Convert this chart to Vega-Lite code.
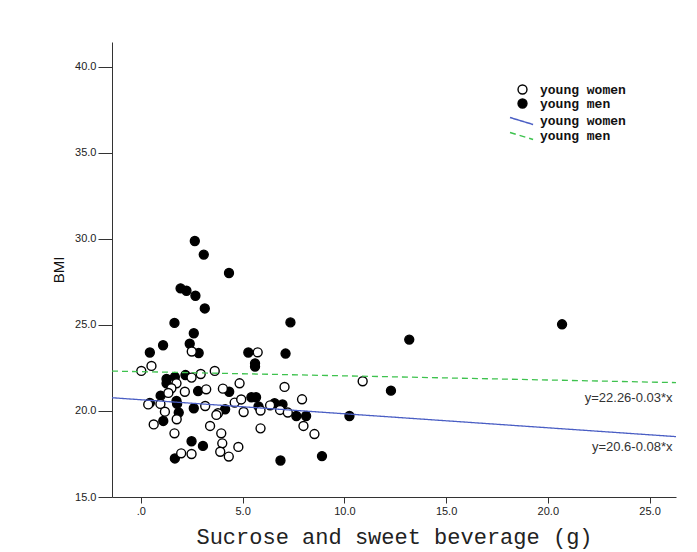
{
  "$schema": "https://vega.github.io/schema/vega-lite/v6.json",
  "autosize": {"type": "none"},
  "width": 564,
  "height": 455,
  "padding": {"left": 112, "top": 42, "right": 21, "bottom": 55},
  "background": "white",
  "config": {
    "view": {"stroke": null},
    "axis": {"grid": false, "labelFont": "Liberation Sans", "labelFontSize": 11, "labelColor": "#222", "domainColor": "#333", "tickColor": "#333", "titleColor": "#111"}
  },
  "datasets": {
    "points": [
      {"group": "young men", "sugar": 2.65, "bmi": 29.88},
      {"group": "young men", "sugar": 3.09, "bmi": 29.09},
      {"group": "young men", "sugar": 4.33, "bmi": 28.02},
      {"group": "young men", "sugar": 1.95, "bmi": 27.13},
      {"group": "young men", "sugar": 2.24, "bmi": 26.99},
      {"group": "young men", "sugar": 2.68, "bmi": 26.70},
      {"group": "young men", "sugar": 3.14, "bmi": 25.96},
      {"group": "young men", "sugar": 1.65, "bmi": 25.12},
      {"group": "young men", "sugar": 7.35, "bmi": 25.15},
      {"group": "young men", "sugar": 2.60, "bmi": 24.52},
      {"group": "young men", "sugar": 1.09, "bmi": 23.82},
      {"group": "young men", "sugar": 2.40, "bmi": 23.91},
      {"group": "young men", "sugar": 0.44, "bmi": 23.40},
      {"group": "young men", "sugar": 2.84, "bmi": 23.37},
      {"group": "young men", "sugar": 5.28, "bmi": 23.40},
      {"group": "young men", "sugar": 7.11, "bmi": 23.34},
      {"group": "young men", "sugar": 5.61, "bmi": 22.77},
      {"group": "young men", "sugar": 5.61, "bmi": 22.58},
      {"group": "young men", "sugar": 1.26, "bmi": 21.86},
      {"group": "young men", "sugar": 1.26, "bmi": 21.61},
      {"group": "young men", "sugar": 1.67, "bmi": 21.98},
      {"group": "young men", "sugar": 2.19, "bmi": 22.09},
      {"group": "young men", "sugar": 2.81, "bmi": 21.16},
      {"group": "young men", "sugar": 4.34, "bmi": 21.12},
      {"group": "young men", "sugar": 0.97, "bmi": 20.89},
      {"group": "young men", "sugar": 0.44, "bmi": 20.47},
      {"group": "young men", "sugar": 1.75, "bmi": 20.58},
      {"group": "young men", "sugar": 1.78, "bmi": 20.41},
      {"group": "young men", "sugar": 1.86, "bmi": 19.91},
      {"group": "young men", "sugar": 2.60, "bmi": 20.16},
      {"group": "young men", "sugar": 4.14, "bmi": 20.10},
      {"group": "young men", "sugar": 5.43, "bmi": 20.80},
      {"group": "young men", "sugar": 5.66, "bmi": 20.80},
      {"group": "young men", "sugar": 5.78, "bmi": 20.27},
      {"group": "young men", "sugar": 6.57, "bmi": 20.45},
      {"group": "young men", "sugar": 6.96, "bmi": 20.38},
      {"group": "young men", "sugar": 7.64, "bmi": 19.71},
      {"group": "young men", "sugar": 8.12, "bmi": 19.71},
      {"group": "young men", "sugar": 10.25, "bmi": 19.71},
      {"group": "young men", "sugar": 1.10, "bmi": 19.42},
      {"group": "young men", "sugar": 2.49, "bmi": 18.24},
      {"group": "young men", "sugar": 3.05, "bmi": 17.97},
      {"group": "young men", "sugar": 1.67, "bmi": 17.24},
      {"group": "young men", "sugar": 6.86, "bmi": 17.12},
      {"group": "young men", "sugar": 8.90, "bmi": 17.38},
      {"group": "young men", "sugar": 13.19, "bmi": 24.15},
      {"group": "young men", "sugar": 20.70, "bmi": 25.04},
      {"group": "young men", "sugar": 12.29, "bmi": 21.18},
      {"group": "young women", "sugar": 2.50, "bmi": 23.46},
      {"group": "young women", "sugar": 5.74, "bmi": 23.41},
      {"group": "young women", "sugar": 0.52, "bmi": 22.62},
      {"group": "young women", "sugar": 0.02, "bmi": 22.33},
      {"group": "young women", "sugar": 3.63, "bmi": 22.33},
      {"group": "young women", "sugar": 2.94, "bmi": 22.15},
      {"group": "young women", "sugar": 1.75, "bmi": 21.61},
      {"group": "young women", "sugar": 1.50, "bmi": 21.32},
      {"group": "young women", "sugar": 1.35, "bmi": 21.05},
      {"group": "young women", "sugar": 2.16, "bmi": 21.12},
      {"group": "young women", "sugar": 3.21, "bmi": 21.26},
      {"group": "young women", "sugar": 4.03, "bmi": 21.30},
      {"group": "young women", "sugar": 4.85, "bmi": 21.61},
      {"group": "young women", "sugar": 7.06, "bmi": 21.40},
      {"group": "young women", "sugar": 0.36, "bmi": 20.38},
      {"group": "young women", "sugar": 0.96, "bmi": 20.41},
      {"group": "young women", "sugar": 1.18, "bmi": 19.96},
      {"group": "young women", "sugar": 3.16, "bmi": 20.29},
      {"group": "young women", "sugar": 3.79, "bmi": 19.87},
      {"group": "young women", "sugar": 3.71, "bmi": 19.77},
      {"group": "young women", "sugar": 4.61, "bmi": 20.49},
      {"group": "young women", "sugar": 4.93, "bmi": 20.67},
      {"group": "young women", "sugar": 5.05, "bmi": 19.94},
      {"group": "young women", "sugar": 5.88, "bmi": 20.03},
      {"group": "young women", "sugar": 6.35, "bmi": 20.33},
      {"group": "young women", "sugar": 6.84, "bmi": 20.06},
      {"group": "young women", "sugar": 7.22, "bmi": 19.91},
      {"group": "young women", "sugar": 7.92, "bmi": 20.68},
      {"group": "young women", "sugar": 1.76, "bmi": 19.52},
      {"group": "young women", "sugar": 0.63, "bmi": 19.22},
      {"group": "young women", "sugar": 3.40, "bmi": 19.13},
      {"group": "young women", "sugar": 5.88, "bmi": 18.99},
      {"group": "young women", "sugar": 7.99, "bmi": 19.13},
      {"group": "young women", "sugar": 1.65, "bmi": 18.70},
      {"group": "young women", "sugar": 3.95, "bmi": 18.70},
      {"group": "young women", "sugar": 8.53, "bmi": 18.66},
      {"group": "young women", "sugar": 4.00, "bmi": 18.12},
      {"group": "young women", "sugar": 4.79, "bmi": 17.91},
      {"group": "young women", "sugar": 1.98, "bmi": 17.54},
      {"group": "young women", "sugar": 2.49, "bmi": 17.50},
      {"group": "young women", "sugar": 3.90, "bmi": 17.63},
      {"group": "young women", "sugar": 4.32, "bmi": 17.35},
      {"group": "young women", "sugar": 10.90, "bmi": 21.73},
      {"group": "young women", "sugar": 2.49, "bmi": 21.94}
    ],
    "fits": [
      {"series": "young women fit", "sugar": -1.42, "bmi": 20.77},
      {"series": "young women fit", "sugar": 26.3, "bmi": 18.51},
      {"series": "young men fit", "sugar": -1.42, "bmi": 22.32},
      {"series": "young men fit", "sugar": 26.3, "bmi": 21.65}
    ],
    "labels": [
      {"text": "y=22.26-0.03*x", "sugar": 26.13, "bmi": 20.77},
      {"text": "y=20.6-0.08*x", "sugar": 26.13, "bmi": 17.92}
    ]
  },
  "encoding": {
    "x": {"field": "sugar", "type": "quantitative",
      "scale": {"domain": [-1.42, 26.3], "nice": false, "zero": false},
      "axis": {"values": [0, 5, 10, 15, 20, 25], "labelExpr": "datum.value == 0 ? '.0' : format(datum.value, '.1f')", "tickSize": 6, "labelPadding": 2,
        "title": "Sucrose and sweet beverage (g)", "titleFont": "Liberation Mono", "titleFontSize": 22, "titleFontWeight": "normal", "titlePadding": 10, "titleColor": "#222"}},
    "y": {"field": "bmi", "type": "quantitative",
      "scale": {"domain": [15, 41.45], "nice": false, "zero": false},
      "axis": {"values": [15, 20, 25, 30, 35, 40], "format": ".1f", "tickSize": 14, "labelPadding": 2,
        "title": "BMI", "titleFont": "Liberation Sans", "titleFontSize": 15, "titleFontWeight": "normal", "titlePadding": 8}}
  },
  "layer": [
    {
      "data": {"name": "points"},
      "mark": {"type": "point", "shape": "circle", "filled": true, "stroke": "black", "strokeWidth": 1.4, "size": 80, "opacity": 1},
      "encoding": {
        "fill": {"field": "group", "type": "nominal",
          "scale": {"domain": ["young women", "young men"], "range": ["white", "black"]},
          "legend": {"title": null, "orient": "none", "legendX": 404, "legendY": 41, "padding": 0,
            "symbolType": "circle", "symbolSize": 80, "symbolStrokeColor": "black", "symbolStrokeWidth": 1.4,
            "labelFont": "Liberation Mono", "labelFontSize": 13, "labelFontWeight": "bold", "labelColor": "#111", "labelOffset": 11, "rowPadding": -2}}
      }
    },
    {
      "data": {"name": "fits"},
      "mark": {"type": "line", "strokeWidth": 1.3},
      "encoding": {
        "color": {"field": "series", "type": "nominal",
          "scale": {"domain": ["young women fit", "young men fit"], "range": ["#4a5ec4", "#3ec24e"]},
          "legend": {"title": null, "orient": "none", "legendX": 411, "legendY": 71, "padding": 0,
            "symbolType": "M-3,-0.5L0.3,0.5", "symbolSize": 196, "symbolStrokeWidth": 1.5,
            "labelExpr": "replace(datum.label, ' fit', '')",
            "labelFont": "Liberation Mono", "labelFontSize": 13, "labelFontWeight": "bold", "labelColor": "#111", "labelOffset": 1, "rowPadding": -2}},
        "strokeDash": {"field": "series", "type": "nominal",
          "scale": {"domain": ["young women fit", "young men fit"], "range": [[1, 0], [6, 4]]},
          "legend": {"title": null, "orient": "none", "legendX": 411, "legendY": 71, "padding": 0,
            "symbolType": "M-3,-0.5L0.3,0.5", "symbolSize": 196, "symbolStrokeWidth": 1.5,
            "labelExpr": "replace(datum.label, ' fit', '')",
            "labelFont": "Liberation Mono", "labelFontSize": 13, "labelFontWeight": "bold", "labelColor": "#111", "labelOffset": 1, "rowPadding": -2}}
      }
    },
    {
      "data": {"name": "labels"},
      "mark": {"type": "text", "align": "right", "baseline": "middle", "font": "Liberation Sans", "fontSize": 13, "color": "#333"},
      "encoding": {"text": {"field": "text", "type": "nominal"}}
    },
    {
      "mark": {"type": "rule", "color": "#cccccc", "strokeWidth": 1},
      "encoding": {"x": {"datum": 26.3}, "y": {"datum": 15}, "y2": {"datum": 41.45}}
    }
  ]
}
